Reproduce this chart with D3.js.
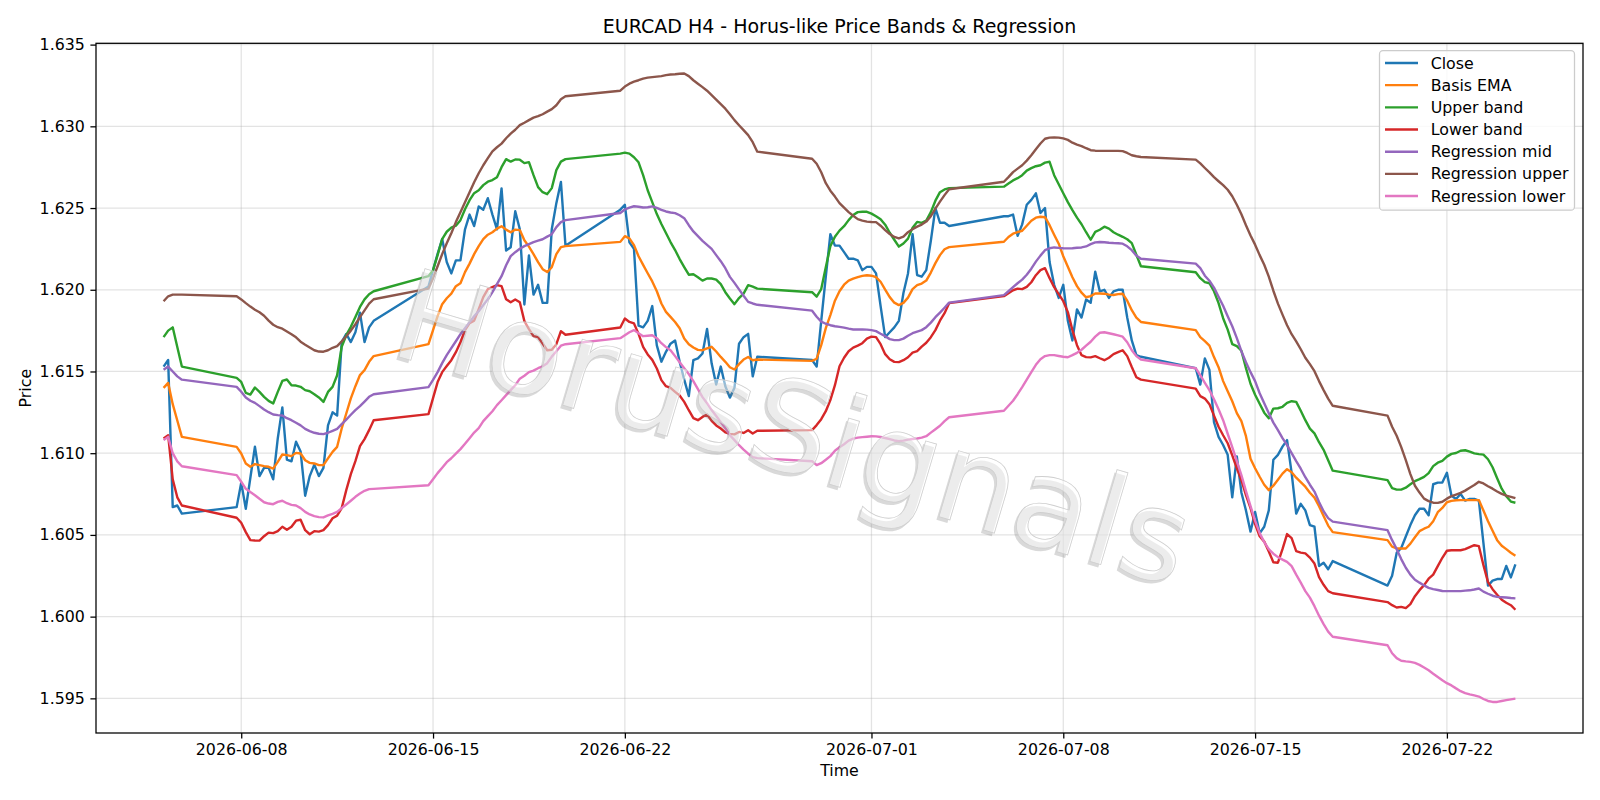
<!DOCTYPE html>
<html>
<head>
<meta charset="utf-8">
<script src="https://cdn.jsdelivr.net/npm/d3@7"></script>
<style>
  body { margin: 0; background: #fff; }
  svg { display: block; font-family: "DejaVu Sans", sans-serif; }
  .tick text { font-size: 15.8px; fill: #000; }
  .grid line { stroke: #b0b0b0; stroke-opacity: 0.35; stroke-width: 1.27; }
  .series { fill: none; stroke-width: 2.4; stroke-linejoin: round; }
</style>
</head>
<body>
<script>
// H4 sessions: first bar time (UTC) and number of 4h bars in the block
var sessions = [
  ["2026-06-05T04:00:00Z", 5],
  ["2026-06-07T20:00:00Z", 31],
  ["2026-06-14T20:00:00Z", 31],
  ["2026-06-21T20:00:00Z", 31],
  ["2026-06-28T20:00:00Z", 31],
  ["2026-07-05T20:00:00Z", 31],
  ["2026-07-12T20:00:00Z", 31],
  ["2026-07-19T20:00:00Z", 29]
];

var close = [
  1.6153, 1.6157, 1.6067, 1.6068, 1.6063,
  1.6067, 1.6082, 1.6066, 1.6085, 1.6104, 1.6086, 1.6091, 1.6091, 1.6084, 1.6109, 1.6128, 1.6096, 1.6095, 1.6107, 1.6101, 1.6074, 1.6086, 1.6093, 1.6086, 1.6091, 1.6117, 1.6125, 1.6123, 1.6168, 1.6173, 1.6168, 1.6174, 1.6186, 1.6168, 1.6177, 1.6181,
  1.6202, 1.6212, 1.6222, 1.6231, 1.6217, 1.6210, 1.6218, 1.6218, 1.6237, 1.6246, 1.6239, 1.6251, 1.6249, 1.6256, 1.6246, 1.6237, 1.6262, 1.6224, 1.6226, 1.6248, 1.6237, 1.6191, 1.6221, 1.6197, 1.6203, 1.6192, 1.6192, 1.6237, 1.6253, 1.6266, 1.6227,
  1.6249, 1.6252, 1.6229, 1.6225, 1.6178, 1.6177, 1.6181, 1.6190, 1.6166, 1.6156, 1.6162, 1.6167, 1.6169, 1.6156, 1.6145, 1.6135, 1.6157, 1.6158, 1.6161, 1.6176, 1.6155, 1.6142, 1.6153, 1.6141, 1.6134, 1.6140, 1.6167, 1.6171, 1.6173, 1.6147, 1.6159,
  1.6157, 1.6153, 1.6181, 1.6208, 1.6234, 1.6227, 1.6227, 1.6223, 1.6219, 1.6219, 1.6218, 1.6212, 1.6214, 1.6214, 1.6210, 1.6190, 1.6171, 1.6174, 1.6177, 1.6181, 1.6198, 1.6210, 1.6234, 1.6209, 1.6208, 1.6212, 1.6230, 1.6250, 1.6241, 1.6241, 1.6239,
  1.6245, 1.6245, 1.6246, 1.6233, 1.6240, 1.6252, 1.6255, 1.6259, 1.6247, 1.6250, 1.6217, 1.6203, 1.6195, 1.6203, 1.6181, 1.6169, 1.6188, 1.6183, 1.6194, 1.6192, 1.6211, 1.6199, 1.6200, 1.6195, 1.6199, 1.6200, 1.6200, 1.6183, 1.6169, 1.6160, 1.6159,
  1.6152, 1.6142, 1.6158, 1.6151, 1.6119, 1.6110, 1.6105, 1.6099, 1.6073, 1.6098, 1.6076, 1.6065, 1.6052, 1.6064, 1.6051, 1.6055, 1.6065, 1.6096, 1.6099, 1.6104, 1.6108, 1.6088, 1.6063, 1.6069, 1.6065, 1.6056, 1.6055, 1.6031, 1.6033, 1.6029, 1.6034,
  1.6019, 1.6025, 1.6039, 1.6042, 1.6049, 1.6056, 1.6062, 1.6066, 1.6066, 1.6062, 1.6081, 1.6082, 1.6082, 1.6088, 1.6074, 1.6072, 1.6075, 1.6071, 1.6072, 1.6072, 1.6071, 1.6045, 1.6019, 1.6022, 1.6023, 1.6023, 1.6031, 1.6024, 1.6032
];

var basisEma = [
  1.6140, 1.6143, 1.6130, 1.6120, 1.6110,
  1.61039, 1.60998, 1.60937, 1.60917, 1.60933, 1.60927, 1.60921, 1.60917, 1.60906, 1.60947, 1.60992, 1.60988, 1.60982, 1.61002, 1.60998, 1.60957, 1.60941, 1.60937, 1.60927, 1.60927, 1.60968, 1.61008, 1.61039, 1.61151, 1.61243, 1.61335, 1.61410, 1.61478, 1.61508, 1.61559, 1.61594,
  1.61667, 1.61753, 1.61838, 1.61912, 1.61948, 1.61976, 1.62022, 1.62040, 1.62108, 1.62160, 1.62218, 1.62267, 1.62310, 1.62337, 1.62352, 1.62374, 1.62389, 1.62368, 1.62352, 1.62368, 1.62365, 1.62303, 1.62264, 1.62218, 1.62169, 1.62126, 1.62108, 1.62138, 1.62218, 1.62261, 1.62267,
  1.62293, 1.62328, 1.62314, 1.62273, 1.62205, 1.62152, 1.62101, 1.62051, 1.61991, 1.61916, 1.61865, 1.61834, 1.61803, 1.61765, 1.61702, 1.61667, 1.61647, 1.61632, 1.61630, 1.61641, 1.61651, 1.61622, 1.61589, 1.61559, 1.61526, 1.61512, 1.61545, 1.61573, 1.61589, 1.61569, 1.61573,
  1.61565, 1.61578, 1.61661, 1.61765, 1.61845, 1.61933, 1.61991, 1.62031, 1.62056, 1.62068, 1.62077, 1.62085, 1.62089, 1.62086, 1.62077, 1.62049, 1.62001, 1.61955, 1.61921, 1.61906, 1.61920, 1.61952, 1.62004, 1.62028, 1.62038, 1.62056, 1.62105, 1.62163, 1.62212, 1.62248, 1.62261,
  1.62294, 1.62323, 1.62343, 1.62352, 1.62361, 1.62392, 1.62422, 1.62441, 1.62447, 1.62444, 1.62395, 1.62337, 1.62282, 1.62205, 1.62141, 1.62077, 1.62022, 1.61982, 1.61954, 1.61961, 1.61977, 1.61977, 1.61976, 1.61970, 1.61968, 1.61973, 1.61976, 1.61933, 1.61875, 1.61829, 1.61803,
  1.61753, 1.61710, 1.61686, 1.61658, 1.61588, 1.61526, 1.61441, 1.61379, 1.61318, 1.61245, 1.61196, 1.61104, 1.60966, 1.60908, 1.60856, 1.60807, 1.60774, 1.60801, 1.60838, 1.60875, 1.60902, 1.60884, 1.60850, 1.60823, 1.60795, 1.60758, 1.60728, 1.60676, 1.60615, 1.60557, 1.60517,
  1.60468, 1.60428, 1.60417, 1.60417, 1.60417, 1.60447, 1.60486, 1.60523, 1.60538, 1.60550, 1.60584, 1.60639, 1.60665, 1.60700, 1.60708, 1.60712, 1.60713, 1.60713, 1.60713, 1.60713, 1.60713, 1.60649, 1.60584, 1.60526, 1.60468, 1.60434, 1.60413, 1.60391, 1.60373
];

var upperBand = [
  1.6171, 1.6175, 1.6177, 1.6165, 1.6153,
  1.61461, 1.61436, 1.61369, 1.61359, 1.61402, 1.61375, 1.61345, 1.61320, 1.61304, 1.61375, 1.61442, 1.61451, 1.61416, 1.61414, 1.61406, 1.61386, 1.61379, 1.61361, 1.61341, 1.61314, 1.61375, 1.61406, 1.61477, 1.61651, 1.61722, 1.61773, 1.61834, 1.61895, 1.61941, 1.61973, 1.61991,
  1.62083, 1.62120, 1.62212, 1.62310, 1.62355, 1.62380, 1.62392, 1.62426, 1.62493, 1.62548, 1.62591, 1.62609, 1.62640, 1.62661, 1.62671, 1.62689, 1.62750, 1.62799, 1.62784, 1.62797, 1.62796, 1.62775, 1.62781, 1.62701, 1.62628, 1.62597, 1.62585, 1.62622, 1.62732, 1.62784, 1.62799,
  1.62833, 1.62839, 1.62833, 1.62811, 1.62780, 1.62701, 1.62609, 1.62536, 1.62463, 1.62402, 1.62347, 1.62292, 1.62243, 1.62188, 1.62139, 1.62092, 1.62095, 1.62077, 1.62056, 1.62069, 1.62069, 1.62062, 1.62034, 1.61985, 1.61947, 1.61912, 1.61949, 1.61976, 1.62028, 1.62019, 1.62007,
  1.61985, 1.61958, 1.62004, 1.62138, 1.62267, 1.62324, 1.62362, 1.62389, 1.62426, 1.62457, 1.62475, 1.62477, 1.62477, 1.62466, 1.62450, 1.62432, 1.62398, 1.62349, 1.62306, 1.62264, 1.62283, 1.62313, 1.62380, 1.62415, 1.62409, 1.62423, 1.62475, 1.62545, 1.62597, 1.62614, 1.62622,
  1.62631, 1.62650, 1.62669, 1.62683, 1.62701, 1.62729, 1.62744, 1.62756, 1.62762, 1.62778, 1.62783, 1.62701, 1.62646, 1.62591, 1.62536, 1.62487, 1.62441, 1.62401, 1.62352, 1.62306, 1.62354, 1.62367, 1.62386, 1.62374, 1.62352, 1.62337, 1.62324, 1.62309, 1.62285, 1.62214, 1.62144,
  1.62107, 1.62071, 1.62047, 1.62040, 1.61991, 1.61918, 1.61826, 1.61756, 1.61667, 1.61655, 1.61627, 1.61520, 1.61425, 1.61358, 1.61303, 1.61248, 1.61214, 1.61273, 1.61275, 1.61284, 1.61308, 1.61318, 1.61314, 1.61260, 1.61202, 1.61150, 1.61121, 1.61067, 1.61021, 1.60957, 1.60893,
  1.60835, 1.60786, 1.60777, 1.60777, 1.60789, 1.60810, 1.60829, 1.60841, 1.60855, 1.60878, 1.60921, 1.60942, 1.60953, 1.60979, 1.60996, 1.61001, 1.61015, 1.61018, 1.61009, 1.60999, 1.60994, 1.60991, 1.60963, 1.60914, 1.60847, 1.60783, 1.60737, 1.60704, 1.60697
];

var lowerBand = [
  1.6109, 1.6111, 1.6084, 1.6073, 1.6068,
  1.60605, 1.60574, 1.60517, 1.60468, 1.60466, 1.60465, 1.60492, 1.60514, 1.60511, 1.60523, 1.60550, 1.60532, 1.60550, 1.60587, 1.60593, 1.60529, 1.60504, 1.60523, 1.60520, 1.60529, 1.60560, 1.60602, 1.60618, 1.60664, 1.60774, 1.60872, 1.60951, 1.61043, 1.61086, 1.61141, 1.61202,
  1.61239, 1.61337, 1.61435, 1.61496, 1.61533, 1.61569, 1.61618, 1.61679, 1.61753, 1.61796, 1.61811, 1.61881, 1.61955, 1.62004, 1.62016, 1.62028, 1.62022, 1.61942, 1.61924, 1.61941, 1.61924, 1.61808, 1.61759, 1.61716, 1.61710, 1.61671, 1.61630, 1.61633, 1.61667, 1.61747, 1.61725,
  1.61769, 1.61824, 1.61803, 1.61794, 1.61730, 1.61651, 1.61604, 1.61571, 1.61518, 1.61447, 1.61410, 1.61400, 1.61375, 1.61353, 1.61314, 1.61263, 1.61215, 1.61202, 1.61222, 1.61237, 1.61198, 1.61170, 1.61151, 1.61127, 1.61118, 1.61115, 1.61130, 1.61124, 1.61141, 1.61121, 1.61137,
  1.61141, 1.61172, 1.61208, 1.61257, 1.61325, 1.61416, 1.61532, 1.61584, 1.61624, 1.61646, 1.61658, 1.61673, 1.61701, 1.61713, 1.61710, 1.61667, 1.61606, 1.61575, 1.61559, 1.61557, 1.61569, 1.61587, 1.61615, 1.61624, 1.61652, 1.61676, 1.61710, 1.61753, 1.61811, 1.61857, 1.61918,
  1.61961, 1.61979, 1.61997, 1.62007, 1.62004, 1.62018, 1.62046, 1.62089, 1.62120, 1.62132, 1.62071, 1.62016, 1.61973, 1.61930, 1.61863, 1.61753, 1.61661, 1.61600, 1.61588, 1.61586, 1.61594, 1.61581, 1.61569, 1.61584, 1.61606, 1.61618, 1.61630, 1.61594, 1.61527, 1.61465, 1.61450,
  1.61395, 1.61349, 1.61334, 1.61300, 1.61230, 1.61162, 1.61110, 1.61061, 1.60987, 1.60908, 1.60835, 1.60743, 1.60664, 1.60566, 1.60492, 1.60459, 1.60398, 1.60333, 1.60330, 1.60413, 1.60505, 1.60480, 1.60401, 1.60392, 1.60387, 1.60361, 1.60325, 1.60241, 1.60195, 1.60156, 1.60143,
  1.60089, 1.60070, 1.60056, 1.60060, 1.60052, 1.60076, 1.60125, 1.60162, 1.60193, 1.60232, 1.60257, 1.60309, 1.60360, 1.60403, 1.60406, 1.60406, 1.60406, 1.60413, 1.60425, 1.60437, 1.60431, 1.60315, 1.60211, 1.60168, 1.60134, 1.60104, 1.60085, 1.60070, 1.60042
];

var regMid = [
  1.6151, 1.6153, 1.6150, 1.6147, 1.6145,
  1.61406, 1.61376, 1.61341, 1.61321, 1.61308, 1.61288, 1.61267, 1.61251, 1.61237, 1.61233, 1.61231, 1.61214, 1.61202, 1.61186, 1.61170, 1.61149, 1.61135, 1.61125, 1.61119, 1.61117, 1.61125, 1.61137, 1.61149, 1.61178, 1.61206, 1.61235, 1.61263, 1.61288, 1.61316, 1.61345, 1.61361,
  1.61404, 1.61448, 1.61496, 1.61551, 1.61600, 1.61643, 1.61685, 1.61728, 1.61765, 1.61802, 1.61838, 1.61869, 1.61906, 1.61942, 1.61985, 1.62034, 1.62083, 1.62150, 1.62206, 1.62230, 1.62251, 1.62267, 1.62279, 1.62291, 1.62300, 1.62309, 1.62325, 1.62340, 1.62383, 1.62414, 1.62426,
  1.62470, 1.62491, 1.62503, 1.62511, 1.62508, 1.62503, 1.62505, 1.62510, 1.62501, 1.62489, 1.62479, 1.62473, 1.62469, 1.62456, 1.62438, 1.62395, 1.62357, 1.62328, 1.62299, 1.62275, 1.62250, 1.62212, 1.62175, 1.62132, 1.62079, 1.62042, 1.62002, 1.61963, 1.61926, 1.61916, 1.61908,
  1.61872, 1.61835, 1.61805, 1.61792, 1.61783, 1.61777, 1.61773, 1.61768, 1.61762, 1.61757, 1.61757, 1.61757, 1.61756, 1.61753, 1.61747, 1.61731, 1.61716, 1.61698, 1.61692, 1.61692, 1.61701, 1.61719, 1.61734, 1.61744, 1.61753, 1.61771, 1.61799, 1.61832, 1.61860, 1.61890, 1.61921,
  1.61967, 1.61991, 1.62016, 1.62040, 1.62062, 1.62092, 1.62129, 1.62172, 1.62209, 1.62242, 1.62254, 1.62259, 1.62256, 1.62254, 1.62253, 1.62254, 1.62257, 1.62259, 1.62265, 1.62279, 1.62290, 1.62292, 1.62291, 1.62288, 1.62286, 1.62285, 1.62282, 1.62266, 1.62242, 1.62209, 1.62190,
  1.62160, 1.62132, 1.62086, 1.62055, 1.62013, 1.61957, 1.61902, 1.61838, 1.61777, 1.61704, 1.61624, 1.61557, 1.61496, 1.61441, 1.61367, 1.61306, 1.61245, 1.61187, 1.61141, 1.61092, 1.61049, 1.61000, 1.60951, 1.60905, 1.60853, 1.60807, 1.60765, 1.60701, 1.60645, 1.60603, 1.60581,
  1.60529, 1.60468, 1.60413, 1.60352, 1.60299, 1.60257, 1.60226, 1.60208, 1.60191, 1.60176, 1.60168, 1.60163, 1.60157, 1.60156, 1.60156, 1.60156, 1.60156, 1.60159, 1.60161, 1.60166, 1.60172, 1.60153, 1.60140, 1.60128, 1.60121, 1.60119, 1.60117, 1.60114, 1.60112
];

var regUpper = [
  1.6193, 1.6196, 1.6197, 1.6197, 1.6197,
  1.61960, 1.61941, 1.61918, 1.61897, 1.61878, 1.61862, 1.61841, 1.61811, 1.61786, 1.61771, 1.61762, 1.61745, 1.61728, 1.61709, 1.61682, 1.61664, 1.61647, 1.61630, 1.61622, 1.61621, 1.61630, 1.61645, 1.61655, 1.61684, 1.61716, 1.61750, 1.61789, 1.61832, 1.61874, 1.61915, 1.61942,
  1.62007, 1.62071, 1.62144, 1.62218, 1.62285, 1.62346, 1.62414, 1.62475, 1.62536, 1.62597, 1.62658, 1.62713, 1.62762, 1.62805, 1.62847, 1.62872, 1.62894, 1.62927, 1.62955, 1.62979, 1.63007, 1.63022, 1.63038, 1.63053, 1.63062, 1.63074, 1.63090, 1.63105, 1.63129, 1.63166, 1.63184,
  1.63218, 1.63243, 1.63261, 1.63273, 1.63282, 1.63292, 1.63298, 1.63301, 1.63304, 1.63307, 1.63313, 1.63317, 1.63319, 1.63322, 1.63323, 1.63307, 1.63282, 1.63261, 1.63240, 1.63218, 1.63191, 1.63163, 1.63136, 1.63108, 1.63074, 1.63038, 1.63007, 1.62977, 1.62946, 1.62903, 1.62845,
  1.62802, 1.62771, 1.62719, 1.62652, 1.62606, 1.62570, 1.62530, 1.62502, 1.62475, 1.62453, 1.62432, 1.62423, 1.62417, 1.62415, 1.62414, 1.62392, 1.62365, 1.62341, 1.62323, 1.62314, 1.62325, 1.62352, 1.62371, 1.62386, 1.62399, 1.62417, 1.62450, 1.62496, 1.62539, 1.62579, 1.62615,
  1.62661, 1.62689, 1.62720, 1.62741, 1.62762, 1.62790, 1.62823, 1.62860, 1.62895, 1.62924, 1.62931, 1.62932, 1.62931, 1.62926, 1.62917, 1.62900, 1.62888, 1.62879, 1.62866, 1.62854, 1.62851, 1.62850, 1.62850, 1.62850, 1.62850, 1.62850, 1.62848, 1.62837, 1.62823, 1.62817, 1.62812,
  1.62796, 1.62773, 1.62745, 1.62718, 1.62689, 1.62664, 1.62640, 1.62612, 1.62572, 1.62520, 1.62462, 1.62395, 1.62332, 1.62276, 1.62212, 1.62153, 1.62080, 1.61994, 1.61915, 1.61848, 1.61783, 1.61728, 1.61684, 1.61636, 1.61584, 1.61545, 1.61502, 1.61441, 1.61386, 1.61334, 1.61290,
  1.61230, 1.61162, 1.61107, 1.61037, 1.60957, 1.60872, 1.60801, 1.60759, 1.60722, 1.60707, 1.60697, 1.60696, 1.60703, 1.60722, 1.60737, 1.60747, 1.60757, 1.60771, 1.60789, 1.60805, 1.60825, 1.60815, 1.60798, 1.60783, 1.60766, 1.60751, 1.60740, 1.60733, 1.60725
];

var regLower = [
  1.6108, 1.6110, 1.6100, 1.6095, 1.6092,
  1.60866, 1.60825, 1.60782, 1.60762, 1.60743, 1.60721, 1.60700, 1.60692, 1.60688, 1.60702, 1.60709, 1.60694, 1.60684, 1.60680, 1.60664, 1.60641, 1.60625, 1.60615, 1.60609, 1.60607, 1.60619, 1.60629, 1.60641, 1.60664, 1.60686, 1.60709, 1.60733, 1.60753, 1.60770, 1.60780, 1.60782,
  1.60804, 1.60841, 1.60878, 1.60911, 1.60945, 1.60969, 1.60997, 1.61025, 1.61058, 1.61092, 1.61126, 1.61153, 1.61196, 1.61227, 1.61257, 1.61294, 1.61324, 1.61355, 1.61386, 1.61416, 1.61456, 1.61474, 1.61496, 1.61505, 1.61520, 1.61532, 1.61551, 1.61591, 1.61624, 1.61658, 1.61667,
  1.61704, 1.61722, 1.61740, 1.61753, 1.61734, 1.61716, 1.61719, 1.61722, 1.61704, 1.61673, 1.61649, 1.61630, 1.61594, 1.61557, 1.61520, 1.61484, 1.61441, 1.61392, 1.61343, 1.61306, 1.61264, 1.61227, 1.61190, 1.61153, 1.61110, 1.61080, 1.61049, 1.61022, 1.60997, 1.60976, 1.60970,
  1.60951, 1.60927, 1.60939, 1.60960, 1.60982, 1.61015, 1.61037, 1.61055, 1.61077, 1.61089, 1.61095, 1.61098, 1.61101, 1.61104, 1.61103, 1.61099, 1.61093, 1.61086, 1.61078, 1.61074, 1.61077, 1.61083, 1.61087, 1.61090, 1.61095, 1.61104, 1.61126, 1.61147, 1.61168, 1.61196, 1.61220,
  1.61260, 1.61290, 1.61321, 1.61361, 1.61404, 1.61450, 1.61496, 1.61541, 1.61575, 1.61594, 1.61600, 1.61600, 1.61595, 1.61590, 1.61587, 1.61600, 1.61614, 1.61633, 1.61658, 1.61682, 1.61713, 1.61737, 1.61740, 1.61734, 1.61728, 1.61721, 1.61713, 1.61679, 1.61630, 1.61594, 1.61573,
  1.61520, 1.61477, 1.61431, 1.61386, 1.61330, 1.61269, 1.61202, 1.61119, 1.61037, 1.60951, 1.60866, 1.60768, 1.60676, 1.60587, 1.60511, 1.60456, 1.60413, 1.60385, 1.60364, 1.60349, 1.60335, 1.60309, 1.60257, 1.60208, 1.60156, 1.60116, 1.60064, 1.60006, 1.59954, 1.59908, 1.59877,
  1.59825, 1.59776, 1.59746, 1.59730, 1.59726, 1.59723, 1.59717, 1.59705, 1.59689, 1.59672, 1.59651, 1.59631, 1.59611, 1.59593, 1.59579, 1.59561, 1.59544, 1.59532, 1.59524, 1.59518, 1.59511, 1.59496, 1.59484, 1.59478, 1.59478, 1.59484, 1.59489, 1.59494, 1.59498
];

var seriesNames = ["Close", "Basis EMA", "Upper band", "Lower band", "Regression mid", "Regression upper", "Regression lower"];
var seriesColors = ["#1f77b4", "#ff7f0e", "#2ca02c", "#d62728", "#9467bd", "#8c564b", "#e377c2"];
var xTickDates = ["2026-06-08", "2026-06-15", "2026-06-22", "2026-07-01", "2026-07-08", "2026-07-15", "2026-07-22"];
var yTicks = [1.595, 1.600, 1.605, 1.610, 1.615, 1.620, 1.625, 1.630, 1.635];

// build bar timestamps
var times = [];
sessions.forEach(function(s) {
  var t0 = new Date(s[0]).getTime();
  for (var k = 0; k < s[1]; k++) times.push(new Date(t0 + k * 4 * 3600 * 1000));
});

var allSeries = [close, basisEma, upperBand, lowerBand, regMid, regUpper, regLower];

var width = 1600, height = 800;
var margin = {left: 96, right: 17, top: 43.3, bottom: 67};
var innerW = width - margin.left - margin.right;
var innerH = height - margin.top - margin.bottom;

var svg = d3.select("body").append("svg")
  .attr("width", width)
  .attr("height", height);

// matplotlib style 5% margins on x
var t0 = times[0].getTime(), t1 = times[times.length - 1].getTime();
var pad = (t1 - t0) * 0.05;
var x = d3.scaleUtc()
  .domain([new Date(t0 - pad), new Date(t1 + pad)])
  .range([margin.left, margin.left + innerW]);

var y = d3.scaleLinear()
  .domain([1.59288, 1.63508])
  .range([margin.top + innerH, margin.top]);

var parseDay = d3.utcParse("%Y-%m-%d");
var xTicks = xTickDates.map(parseDay);

// grid
var grid = svg.append("g").attr("class", "grid");
grid.selectAll(".vg").data(xTicks).enter().append("line")
  .attr("x1", d => x(d)).attr("x2", d => x(d))
  .attr("y1", margin.top).attr("y2", margin.top + innerH);
grid.selectAll(".hg").data(yTicks).enter().append("line")
  .attr("x1", margin.left).attr("x2", margin.left + innerW)
  .attr("y1", d => y(d)).attr("y2", d => y(d));

// lines
var line = d3.line()
  .x(function(d, i) { return x(times[i]); })
  .y(function(d) { return y(d); });

var plot = svg.append("g");
allSeries.forEach(function(s, k) {
  plot.append("path")
    .attr("class", "series")
    .attr("d", line(s))
    .attr("stroke", seriesColors[k]);
});

// watermark: light letters with a soft grey drop shadow
var wmX = 781, wmY = 470, wmAngle = 16.5;
function watermark(dx, dy) {
  return svg.append("text")
    .attr("transform", "translate(" + (wmX + dx) + "," + (wmY + dy) + ") rotate(" + wmAngle + ")")
    .attr("text-anchor", "middle")
    .style("font-family", "'DejaVu Sans', sans-serif")
    .style("font-size", "126px")
    .text("HorusSignals");
}
watermark(-2.5, 3)
  .attr("fill", "#808080")
  .attr("fill-opacity", 0.3);
watermark(0, 0)
  .attr("fill", "#ffffff")
  .attr("fill-opacity", 0.5)
  .attr("stroke", "#cfcfcf")
  .attr("stroke-width", 0.8);

// axes
var xAxis = d3.axisBottom(x)
  .tickValues(xTicks)
  .tickFormat(d3.utcFormat("%Y-%m-%d"))
  .tickSize(5.6)
  .tickPadding(5.6);
var yAxis = d3.axisLeft(y)
  .tickValues(yTicks)
  .tickFormat(d3.format(".3f"))
  .tickSize(5.6)
  .tickPadding(5.6);

var gx = svg.append("g")
  .attr("transform", "translate(0," + (margin.top + innerH) + ")")
  .call(xAxis);
var gy = svg.append("g")
  .attr("transform", "translate(" + margin.left + ",0)")
  .call(yAxis);
[gx, gy].forEach(function(g) {
  g.select(".domain").remove();
  g.selectAll(".tick line").attr("stroke", "#000").attr("stroke-width", 1.27);
  g.selectAll(".tick text").style("font-family", "'DejaVu Sans', sans-serif");
});

// frame
svg.append("rect")
  .attr("x", margin.left).attr("y", margin.top)
  .attr("width", innerW).attr("height", innerH)
  .attr("fill", "none")
  .attr("stroke", "#000")
  .attr("stroke-width", 1.27);

// title and labels
svg.append("text")
  .attr("x", margin.left + innerW / 2).attr("y", 33)
  .attr("text-anchor", "middle")
  .style("font-size", "19px")
  .text("EURCAD H4 - Horus-like Price Bands & Regression");

svg.append("text")
  .attr("x", margin.left + innerW / 2).attr("y", 776)
  .attr("text-anchor", "middle")
  .style("font-size", "15.8px")
  .text("Time");

svg.append("text")
  .attr("transform", "translate(31," + (margin.top + innerH / 2) + ") rotate(-90)")
  .attr("text-anchor", "middle")
  .style("font-size", "15.8px")
  .text("Price");

// legend
var lg = svg.append("g").attr("transform", "translate(1379.5,50.7)");
lg.append("rect")
  .attr("width", 195).attr("height", 159.5)
  .attr("rx", 3.5)
  .attr("fill", "#fff").attr("fill-opacity", 0.8)
  .attr("stroke", "#cccccc").attr("stroke-width", 1.27);
seriesNames.forEach(function(name, k) {
  var cy = 12.3 + k * 22.17;
  lg.append("line")
    .attr("x1", 5.5).attr("x2", 38.5)
    .attr("y1", cy).attr("y2", cy)
    .attr("stroke", seriesColors[k]).attr("stroke-width", 2.4);
  lg.append("text")
    .attr("x", 51.2).attr("y", cy)
    .attr("dy", "0.35em")
    .style("font-size", "15.8px")
    .text(name);
});
</script>
</body>
</html>
